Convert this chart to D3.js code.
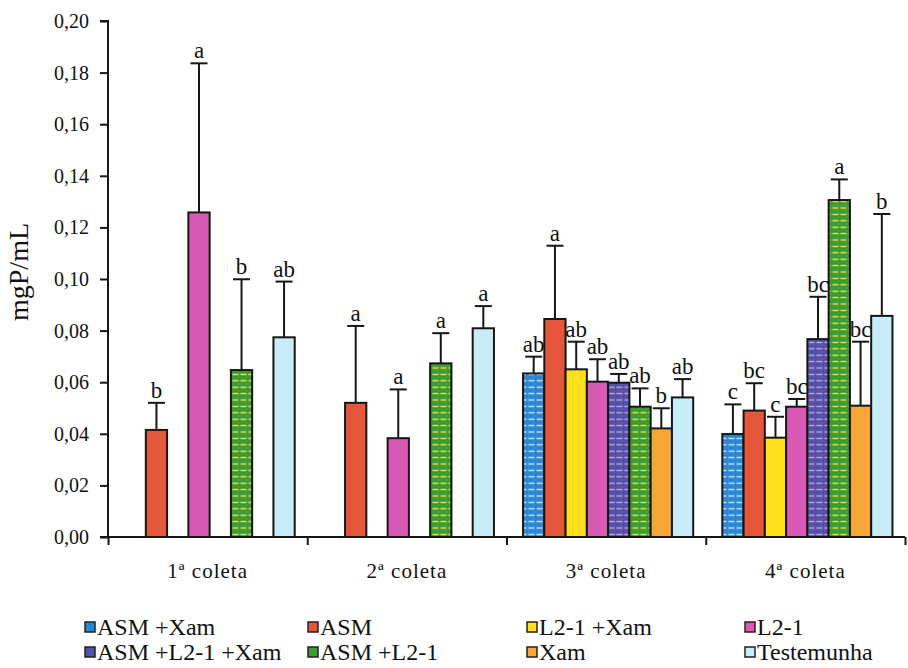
<!DOCTYPE html>
<html>
<head>
<meta charset="utf-8">
<script src="https://cdn.jsdelivr.net/npm/d3@7"></script>
<style>
  html, body { margin: 0; padding: 0; background: #ffffff; }
  svg { display: block; }
  svg text { font-family: "Liberation Serif", "Times New Roman", "DejaVu Serif", serif; }
</style>
</head>
<body>
<svg id="chart" width="908" height="668"></svg>
<script>
// ---------- data ----------
const groups = ["1ª coleta", "2ª coleta", "3ª coleta", "4ª coleta"];
const series = ["ASM +Xam", "ASM", "L2-1 +Xam", "L2-1", "ASM +L2-1 +Xam", "ASM +L2-1", "Xam", "Testemunha"];
const seriesColors = ["#2c86d6", "#e4573b", "#ffe01c", "#d95ab4", "#5352a8", "#3e9b3a", "#f6a737", "#c9ecf9"];
const seriesStripes = ["#d8ecff", null, null, null, "#d6a8e0", "#f0ec3a", null, null];

const valASMXam     = [null,   null,   0.0634, 0.0399];
const valASM        = [0.0415, 0.0520, 0.0845, 0.0490];
const valL21Xam     = [null,   null,   0.0650, 0.0385];
const valL21        = [0.1258, 0.0383, 0.0602, 0.0505];
const valASML21Xam  = [null,   null,   0.0598, 0.0767];
const valASML21     = [0.0647, 0.0673, 0.0505, 0.1306];
const valXam        = [null,   null,   0.0421, 0.0509];
const valTest       = [0.0774, 0.0809, 0.0541, 0.0857];

const errASMXam     = [null,   null,   0.0065, 0.0115];
const errASM        = [0.0105, 0.0298, 0.0284, 0.0106];
const errL21Xam     = [null,   null,   0.0107, 0.0081];
const errL21        = [0.0578, 0.0189, 0.0087, 0.0030];
const errASML21Xam  = [null,   null,   0.0034, 0.0164];
const errASML21     = [0.0352, 0.0117, 0.0071, 0.0080];
const errXam        = [null,   null,   0.0078, 0.0248];
const errTest       = [0.0216, 0.0086, 0.0071, 0.0395];

const letASMXam     = [null, null, "ab", "c"];
const letASM        = ["b",  "a",  "a",  "bc"];
const letL21Xam     = [null, null, "ab", "c"];
const letL21        = ["a",  "a",  "ab", "bc"];
const letASML21Xam  = [null, null, "ab", "bc"];
const letASML21     = ["b",  "a",  "ab", "a"];
const letXam        = [null, null, "b",  "bc"];
const letTest       = ["ab", "a",  "ab", "b"];

const yTicks = [0, 0.02, 0.04, 0.06, 0.08, 0.10, 0.12, 0.14, 0.16, 0.18, 0.20];

const allVals = [valASMXam, valASM, valL21Xam, valL21, valASML21Xam, valASML21, valXam, valTest];
const allErrs = [errASMXam, errASM, errL21Xam, errL21, errASML21Xam, errASML21, errXam, errTest];
const allLets = [letASMXam, letASM, letL21Xam, letL21, letASML21Xam, letASML21, letXam, letTest];

const records = [];
series.forEach((s, si) => {
  groups.forEach((g, gi) => {
    const v = allVals[si][gi];
    if (v !== null) records.push({ s, si, g, v, e: allErrs[si][gi], l: allLets[si][gi] });
  });
});

// ---------- layout ----------
const FONT = "Liberation Serif, Times New Roman, serif";
const svg = d3.select("#chart");
const X0 = 108, X1 = 905, Y0 = 537, Y1 = 21;

const y = d3.scaleLinear().domain([0, 0.2]).range([Y0, Y1]);
const x0 = d3.scaleBand().domain(groups).range([X0 + 2, X1 + 2]).paddingInner(0.146).paddingOuter(0.073);
const x1 = d3.scaleBand().domain(series).range([0, x0.bandwidth()]).padding(0);

// patterns (horizontal dashes)
const defs = svg.append("defs");
series.forEach((s, si) => {
  if (!seriesStripes[si]) return;
  const p = defs.append("pattern")
    .attr("id", "pat" + si)
    .attr("patternUnits", "userSpaceOnUse")
    .attr("width", 8).attr("height", 6.4);
  p.append("rect").attr("width", 8).attr("height", 6.4).attr("fill", seriesColors[si]);
  p.append("line").attr("x1", 0.5).attr("x2", 6.5).attr("y1", 3.2).attr("y2", 3.2)
    .attr("stroke", seriesStripes[si]).attr("stroke-width", 1.3);
});
const fillOf = si => seriesStripes[si] ? `url(#pat${si})` : seriesColors[si];

// bars
svg.append("g").selectAll("rect").data(records).join("rect")
  .attr("x", d => x0(d.g) + x1(d.s))
  .attr("y", d => y(d.v))
  .attr("width", x1.bandwidth())
  .attr("height", d => y(0) - y(d.v))
  .attr("fill", d => fillOf(d.si))
  .attr("stroke", "#161616")
  .attr("stroke-width", 2);

// error bars
const cx = d => x0(d.g) + x1(d.s) + x1.bandwidth() / 2;
const capW = x1.bandwidth() * 0.8;
const errG = svg.append("g").attr("stroke", "#161616").attr("stroke-width", 2);
errG.selectAll("line.ev").data(records).join("line").attr("class", "ev")
  .attr("x1", cx).attr("x2", cx)
  .attr("y1", d => y(d.v)).attr("y2", d => y(d.v + d.e));
errG.selectAll("line.cap").data(records).join("line").attr("class", "cap")
  .attr("x1", d => cx(d) - capW / 2).attr("x2", d => cx(d) + capW / 2)
  .attr("y1", d => y(d.v + d.e)).attr("y2", d => y(d.v + d.e));

// letters
svg.append("g").selectAll("text").data(records).join("text")
  .attr("x", cx)
  .attr("y", d => y(d.v + d.e) - 5)
  .attr("text-anchor", "middle")
  .attr("font-family", FONT)
  .attr("font-size", 23)
  .attr("fill", "#111")
  .text(d => d.l);

// y axis
const yAxis = d3.axisLeft(y).tickValues(yTicks).tickSize(8).tickPadding(11)
  .tickFormat(d => d3.format(".2f")(d).replace(".", ","));
const yg = svg.append("g").attr("transform", `translate(${X0},0)`).call(yAxis)
  .attr("font-family", FONT).attr("font-size", 20);
yg.select(".domain").attr("stroke", "#161616").attr("stroke-width", 2).attr("d", `M-8,${Y1}H0V${Y0}H-8`);
yg.selectAll(".tick line").attr("stroke", "#161616").attr("stroke-width", 2);
yg.selectAll(".tick text").attr("fill", "#111");

// x axis (boundary ticks)
const xb = d3.scaleLinear().domain([0, groups.length]).range([X0, X1]);
const xAxis = d3.axisBottom(xb).tickValues(d3.range(groups.length + 1)).tickSize(8).tickFormat("");
const xg = svg.append("g").attr("transform", `translate(0,${Y0})`).call(xAxis);
xg.select(".domain").attr("stroke", "#161616").attr("stroke-width", 2).attr("d", `M${X0},0H${X1}`);
xg.selectAll(".tick line").attr("stroke", "#161616").attr("stroke-width", 2);

// category labels
svg.append("g").selectAll("text").data(groups).join("text")
  .attr("x", d => xb(groups.indexOf(d) + 0.5))
  .attr("y", 578)
  .attr("text-anchor", "middle")
  .attr("font-family", FONT)
  .attr("font-size", 21)
  .attr("letter-spacing", 1)
  .attr("fill", "#111")
  .text(d => d);

// y label
svg.append("text")
  .attr("transform", "translate(28,272) rotate(-90)")
  .attr("text-anchor", "middle")
  .attr("font-family", FONT)
  .attr("font-size", 28)
  .attr("fill", "#111")
  .text("mgP/mL");

// legend
const legCols = [85, 308, 527, 745];
const legRows = [627, 652];
const leg = svg.append("g").selectAll("g").data(series).join("g")
  .attr("transform", (d, i) => `translate(${legCols[i % 4]},${legRows[Math.floor(i / 4)]})`);
leg.append("rect")
  .attr("x", 0).attr("y", -5).attr("width", 10).attr("height", 10)
  .attr("fill", (d, i) => seriesColors[i])
  .attr("stroke", "#222").attr("stroke-width", 1.5);
leg.append("text")
  .attr("x", 12).attr("y", 8)
  .attr("font-family", FONT)
  .attr("font-size", 24)
  .attr("fill", "#111")
  .text(d => d);
</script>
</body>
</html>
